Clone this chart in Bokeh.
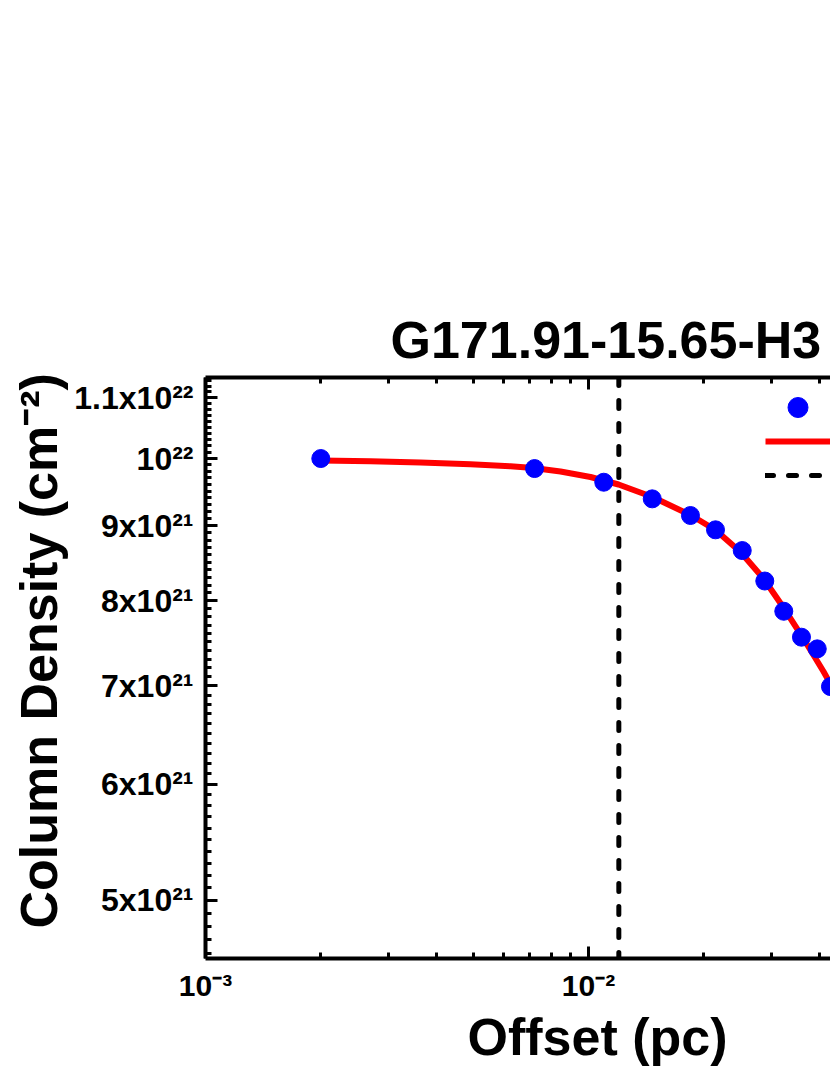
import numpy as np
from bokeh.plotting import figure
from bokeh.models import (LogAxis, FixedTicker, Range1d, Title, Legend,
                          LegendItem, CustomJSTickFormatter)
from bokeh.embed import file_html
from bokeh.resources import INLINE

# ---------------- data ----------------
title_text = "G171.91-15.65-H3"
x_label_text = "Offset (pc)"
y_label_text = "Column Density (cm\u207b\u00b2)"

offset_pc = [0.0020, 0.00723, 0.01096, 0.01467, 0.01846, 0.02146, 0.02520,
             0.02886, 0.03235, 0.03598, 0.03956, 0.04283]
column_density = [1.000e22, 9.844e21, 9.635e21, 9.387e21, 9.145e21, 8.942e21,
                  8.656e21, 8.252e21, 7.870e21, 7.556e21, 7.419e21, 6.993e21]

fit_offset_pc = [0.001997, 0.002697, 0.003641, 0.004918, 0.006256, 0.007185,
                 0.008452, 0.01012, 0.01198, 0.01469, 0.01846, 0.02146,
                 0.02494, 0.02863, 0.03229, 0.03641, 0.04107, 0.04549]
fit_density = [9.969e21, 9.956e21, 9.937e21, 9.909e21, 9.878e21, 9.852e21,
               9.798e21, 9.714e21, 9.601e21, 9.414e21, 9.152e21, 8.939e21,
               8.636e21, 8.284e21, 7.916e21, 7.540e21, 7.160e21, 6.834e21]

beam_pc = 0.012

# legend texts lie beyond the visible right edge of the reference
legend_labels = ["", "", ""]

x_tick_values = [1e-3, 1e-2, 1e-1]
x_tick_labels = ["10\u207b\u00b3", "10\u207b\u00b2", "10\u207b\u00b9"]

y_tick_values = [5e21, 6e21, 7e21, 8e21, 9e21, 1e22, 1.1e22]
y_tick_labels = ["5x10\u00b2\u00b9", "6x10\u00b2\u00b9", "7x10\u00b2\u00b9",
                 "8x10\u00b2\u00b9", "9x10\u00b2\u00b9", "10\u00b2\u00b2",
                 "1.1x10\u00b2\u00b2"]

x_start, x_end = 1e-3, 0.04284
y_start, y_end = 4.565e21, 1.1355e22

FONT = "Liberation Sans"

# ---------------- figure ----------------
p = figure(width=830, height=1075, x_axis_type="log", y_axis_type="log",
           x_range=Range1d(x_start, x_end), y_range=Range1d(y_start, y_end),
           min_border_left=205, min_border_right=0, min_border_top=377,
           min_border_bottom=117, toolbar_location=None, output_backend="svg")
p.outline_line_color = None
p.grid.visible = False
p.background_fill_color = "white"
p.border_fill_color = "white"

x_minor = [k * 10.0 ** e for e in (-3, -2, -1) for k in range(2, 10)]
y_minor = list(np.arange(46, 114) * 1e20)

top_axis = LogAxis()
p.add_layout(top_axis, "above")

LOOKUP = """
const i = vals.findIndex(v => Math.abs(v - tick) <= 1e-6 * Math.abs(v));
return i >= 0 ? labels[i] : '';
"""

for ax in list(p.xaxis) + list(p.yaxis):
    ax.axis_line_width = 4
    ax.axis_line_color = "black"
    ax.major_tick_line_width = 3
    ax.minor_tick_line_width = 3
    ax.major_tick_line_color = "black"
    ax.minor_tick_line_color = "black"
    ax.major_tick_in = 12
    ax.major_tick_out = 0
    ax.minor_tick_in = 6
    ax.minor_tick_out = 0
    ax.major_label_text_font = FONT
    ax.major_label_text_font_style = "bold"
    ax.major_label_text_color = "black"

for ax in p.xaxis:
    ax.ticker = FixedTicker(ticks=x_tick_values, minor_ticks=x_minor)
for ax in p.yaxis:
    ax.ticker = FixedTicker(ticks=y_tick_values, minor_ticks=y_minor)

# bottom axis labels
bottom = p.below[0]
bottom.formatter = CustomJSTickFormatter(
    args=dict(vals=x_tick_values, labels=x_tick_labels), code=LOOKUP)
bottom.major_label_text_font_size = "30px"
bottom.major_label_standoff = 10

# left axis labels
left = p.left[0]
left.formatter = CustomJSTickFormatter(
    args=dict(vals=y_tick_values, labels=y_tick_labels), code=LOOKUP)
left.major_label_text_font_size = "32px"
left.major_label_standoff = 12

# top axis: ticks only
top_axis.formatter = CustomJSTickFormatter(code="return ''")
top_axis.major_label_text_font_size = "1px"
top_axis.major_label_standoff = 0

# ---------------- marks ----------------
beam_r = p.line(x=[beam_pc, beam_pc], y=[y_end, y_start], line_color="black",
                line_width=5, line_dash="8 15", line_cap="round")
fit_r = p.line(x=fit_offset_pc, y=fit_density, line_color="#ff0000",
               line_width=6, line_join="round")
data_r = p.scatter(x=offset_pc, y=column_density, size=18, marker="circle",
                   fill_color="#0000ff", line_color="#0000ff")

# ---------------- legends ----------------
common = dict(glyph_width=65, padding=0, margin=0, spacing=0,
              border_line_color=None, background_fill_alpha=0,
              label_text_font=FONT, label_text_font_style="bold",
              label_text_font_size="20px", label_standoff=5)
leg1 = Legend(items=[LegendItem(label=legend_labels[0], renderers=[data_r])],
              location=(560, 526), glyph_height=50, label_height=50, **common)
leg2 = Legend(items=[LegendItem(label=legend_labels[1], renderers=[fit_r]),
                     LegendItem(label=legend_labels[2], renderers=[beam_r])],
              location=(560, 466), glyph_height=34, label_height=34, **common)
p.add_layout(leg1)
p.add_layout(leg2)

# ---------------- titles ----------------
p.add_layout(Title(text=title_text, align="left", offset=185, standoff=17,
                   text_font=FONT, text_font_style="bold",
                   text_font_size="52px", text_color="black"), "above")
p.add_layout(Title(text=x_label_text, align="left", offset=262, standoff=3,
                   text_font=FONT, text_font_style="bold",
                   text_font_size="52px", text_color="black"), "below")
p.add_layout(Title(text=y_label_text, align="left", offset=30, standoff=8,
                   text_font=FONT, text_font_style="bold",
                   text_font_size="52px", text_color="black"), "left")

open("out.html", "w").write(file_html(p, INLINE))
